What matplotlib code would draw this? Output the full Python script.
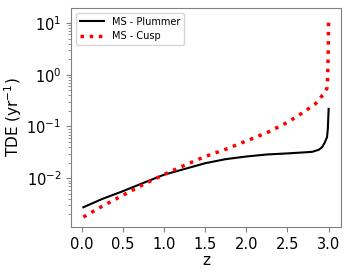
import matplotlib.pyplot as plt

# redshift grid and TDE rates
z_plummer = [0.02, 0.25, 0.5, 0.75, 1.0, 1.25, 1.5, 1.75, 2.0, 2.25, 2.5,
             2.7, 2.8, 2.88, 2.92, 2.95, 2.98, 2.99, 3.0]
rate_plummer = [0.00275, 0.00398, 0.00562, 0.00813, 0.0117, 0.0151, 0.0195,
                0.0234, 0.0263, 0.0288, 0.0302, 0.0316, 0.0324, 0.0355,
                0.0398, 0.0479, 0.0617, 0.089, 0.219]

z_cusp = [0.02, 0.25, 0.5, 0.75, 1.0, 1.25, 1.5, 1.75, 2.0, 2.25, 2.5,
          2.7, 2.84, 2.94, 2.98, 2.985, 2.992, 2.997, 3.0]
rate_cusp = [0.00178, 0.00288, 0.00468, 0.00759, 0.0118, 0.0178, 0.0263,
             0.0363, 0.0525, 0.0759, 0.120, 0.191, 0.275, 0.427, 0.55,
             0.63, 1.58, 5.0, 12.6]

fig = plt.figure(figsize=(3.5, 2.74), dpi=100)
ax = fig.add_axes([0.203, 0.1715, 0.771, 0.8])

ax.plot(z_plummer, rate_plummer, color="black", linestyle="-", linewidth=1.5,
        label="MS - Plummer")
ax.plot(z_cusp, rate_cusp, color="red", linestyle=":", linewidth=2.5,
        label="MS - Cusp")
ax.set_yscale("log")

ax.set_xticks([0.0, 0.5, 1.0, 1.5, 2.0, 2.5, 3.0])
ax.set_xlabel("z", fontsize=11, labelpad=1)
ax.set_ylabel("TDE (yr$^{-1}$)", fontsize=11, labelpad=2)
ax.tick_params(axis="both", which="both", labelsize=10.5, color="grey")
for spine in ax.spines.values():
    spine.set_color("grey")

ax.legend(loc="upper left", fontsize=7, handlelength=2.5)

plt.savefig("out.png")
plt.close()
